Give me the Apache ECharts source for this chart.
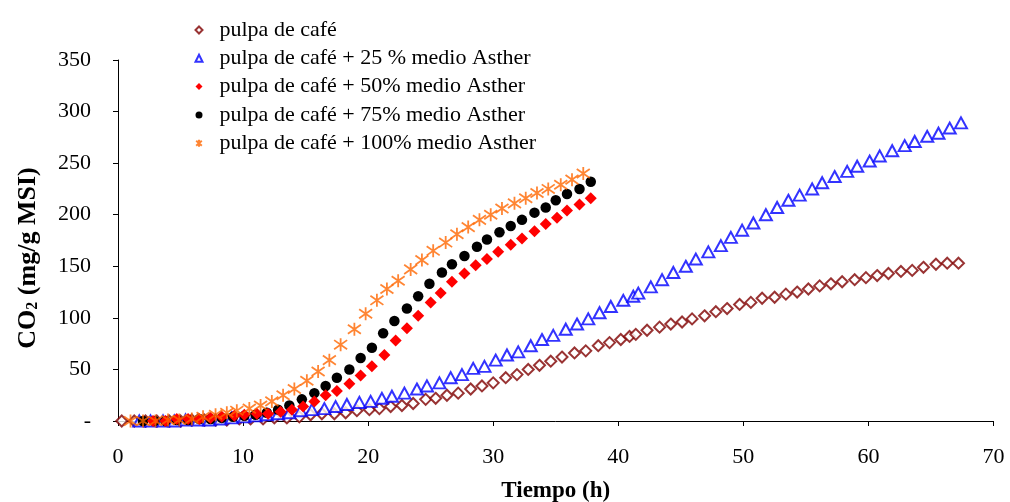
<!DOCTYPE html>
<html>
<head>
<meta charset="utf-8">
<script src="https://cdn.jsdelivr.net/npm/echarts@6/dist/echarts.min.js"></script>
<style>
  html, body { margin: 0; padding: 0; background: #fff; }
  #chart { width: 1010px; height: 502px; }
</style>
</head>
<body>
<div id="chart"></div>
<script>
// Producción acumulada de CO2 (mg/g MSI) frente al tiempo (h)
const nombres = [
  'pulpa de café',
  'pulpa de café + 25 % medio Asther',
  'pulpa de café + 50% medio Asther',
  'pulpa de café + 75% medio Asther',
  'pulpa de café + 100% medio Asther'
];

const ticksY = [0, 50, 100, 150, 200, 250, 300, 350];
const ticksX = [0, 10, 20, 30, 40, 50, 60, 70];

// [tiempo (h), CO2 (mg/g MSI)]
const pulpa = [
  [0.3,0],[1.3,0],[2.2,0],[3.1,0],[4.1,0],[5.0,0],[5.9,1],[6.9,1],[7.8,1],[8.7,1],
  [9.7,2],[10.6,2],[11.6,2],[12.5,3],[13.5,3],[14.5,4],[15.4,6],[16.3,7],[17.3,7],[18.2,8],
  [19.1,10],[20.1,11],[20.9,12],[21.8,14],[22.7,15],[23.6,17],[24.6,21],[25.4,22],[26.3,25],[27.2,27],
  [28.2,31],[29.1,34],[30.0,37],[31.0,42],[31.9,45],[32.8,50],[33.7,54],[34.6,58],[35.5,62],[36.5,66],
  [37.4,68],[38.4,73],[39.3,76],[40.2,79],[40.9,82],[41.4,84],[42.3,88],[43.3,91],[44.2,94],[45.1,96],
  [45.9,99],[46.9,102],[47.8,106],[48.7,109],[49.7,113],[50.6,115],[51.5,119],[52.5,120],[53.4,123],[54.3,125],
  [55.2,128],[56.1,131],[57.0,133],[57.9,135],[58.9,137],[59.8,139],[60.7,141],[61.6,143],[62.6,145],[63.5,146],
  [64.4,149],[65.4,152],[66.3,153],[67.2,153]
];

const asther25 = [
  [1.7,0],[2.6,0],[3.6,0],[4.5,0],[5.4,1],[6.4,1],[7.3,1],[8.2,2],[9.1,3],[10.1,4],
  [11.0,5],[11.9,6],[12.8,7],[13.7,8],[14.6,10],[15.5,11],[16.5,12],[17.4,14],[18.3,16],[19.3,18],
  [20.2,19],[21.1,22],[21.9,24],[22.9,27],[23.9,31],[24.7,34],[25.7,37],[26.6,42],[27.5,45],[28.4,51],
  [29.3,53],[30.2,59],[31.1,64],[32.0,67],[33.0,73],[33.9,79],[34.8,83],[35.8,89],[36.7,94],[37.6,99],
  [38.5,105],[39.4,111],[40.4,117],[41.2,121],[41.6,124],[42.6,130],[43.5,137],[44.4,144],[45.4,150],[46.2,157],
  [47.2,164],[48.2,170],[49.0,178],[49.9,185],[50.8,192],[51.8,200],[52.7,207],[53.6,214],[54.5,219],[55.5,225],
  [56.3,231],[57.3,237],[58.3,242],[59.1,247],[60.1,252],[60.9,257],[61.9,262],[62.9,267],[63.7,271],[64.7,276],
  [65.6,279],[66.5,284],[67.4,289]
];

const asther50 = [
  [2.8,0],[3.8,0],[4.7,2],[5.6,2],[6.5,2],[7.4,3],[8.3,4],[9.3,5],[10.1,6],[11.1,7],
  [12.0,7],[13.0,9],[13.9,11],[14.8,14],[15.7,19],[16.6,25],[17.5,29],[18.5,36],[19.4,44],[20.3,53],
  [21.3,64],[22.2,78],[23.1,90],[24.0,102],[25.0,115],[25.8,124],[26.7,135],[27.7,143],[28.6,151],[29.5,157],
  [30.4,164],[31.4,171],[32.3,177],[33.3,184],[34.2,191],[35.1,197],[35.9,204],[36.9,210],[37.8,216]
];

const asther75 = [
  [2.0,0],[2.9,0],[3.8,0],[4.7,1],[5.6,1],[6.5,2],[7.4,2],[8.3,3],[9.2,4],[10.1,5],
  [11.0,6],[11.9,8],[12.8,11],[13.7,15],[14.7,21],[15.7,27],[16.6,34],[17.5,42],[18.5,50],[19.4,61],
  [20.3,71],[21.2,85],[22.1,97],[23.1,109],[24.0,121],[24.9,133],[25.9,144],[26.7,152],[27.7,160],[28.7,169],
  [29.5,176],[30.5,183],[31.4,189],[32.3,195],[33.3,202],[34.2,207],[35.0,214],[35.9,220],[36.9,225],[37.8,232]
];

const asther100 = [
  [1.0,0],[2.0,0],[3.0,0],[4.0,1],[4.9,1],[5.9,2],[6.8,4],[7.8,6],[8.7,8],[9.5,10],
  [10.5,12],[11.4,15],[12.3,19],[13.2,25],[14.1,31],[15.1,39],[16.0,48],[16.9,59],[17.8,74],[18.9,89],
  [19.8,104],[20.7,117],[21.5,128],[22.4,136],[23.4,147],[24.3,156],[25.2,165],[26.2,173],[27.1,181],[28.0,188],
  [28.9,195],[29.8,200],[30.7,206],[31.7,211],[32.6,216],[33.5,221],[34.4,225],[35.4,229],[36.3,234],[37.2,240]
];

const SERIF = '"Liberation Serif", "Times New Roman", serif';
const asterisco = 'path://M1,1.5L9,8.5M1,8.5L9,1.5M5,0L5,10';

const chart = echarts.init(document.getElementById('chart'), null, { renderer: 'canvas' });

chart.setOption({
  animation: false,
  backgroundColor: '#ffffff',
  grid: {
    left: 118, right: 16.5, top: 60, bottom: 81,
    containLabel: false,
    outerBoundsMode: 'none'
  },
  legend: {
    orient: 'vertical',
    left: 189.5, top: 14,
    itemWidth: 7, itemHeight: 7, itemGap: 6.3,
    textStyle: {
      fontFamily: SERIF, fontSize: 22, color: '#000', lineHeight: 22,
      padding: [0, 0, 0, 12]
    },
    data: nombres
  },
  xAxis: {
    type: 'value',
    min: ticksX[0], max: ticksX[ticksX.length - 1], interval: 10,
    name: 'Tiempo (h)',
    nameLocation: 'middle',
    nameGap: 59,
    nameTextStyle: { fontFamily: SERIF, fontSize: 23, fontWeight: 'bold', color: '#000' },
    axisLine: { show: true, onZero: false, lineStyle: { color: '#000', width: 1 } },
    axisTick: { show: true, inside: false, length: 5, lineStyle: { color: '#000' } },
    axisLabel: { fontFamily: SERIF, fontSize: 22, color: '#000', margin: 25 },
    splitLine: { show: false }
  },
  yAxis: {
    type: 'value',
    min: ticksY[0], max: ticksY[ticksY.length - 1], interval: 50,
    axisLine: { show: true, onZero: false, lineStyle: { color: '#000', width: 1 } },
    axisTick: { show: true, inside: false, length: 5, lineStyle: { color: '#000' } },
    axisLabel: {
      fontFamily: SERIF, fontSize: 22, color: '#000', margin: 27,
      formatter: v => (v === 0 ? '-' : String(v))
    },
    splitLine: { show: false }
  },
  graphic: [{
    type: 'text',
    x: 27, y: 258,
    rotation: Math.PI / 2,
    style: {
      text: '{a|CO}{s|2}{a| (mg/g MSI)}',
      align: 'center',
      verticalAlign: 'middle',
      fill: '#000',
      rich: {
        a: { fontFamily: SERIF, fontSize: 26, fontWeight: 'bold', fill: '#000', lineHeight: 28, verticalAlign: 'bottom' },
        s: { fontFamily: SERIF, fontSize: 16, fontWeight: 'bold', fill: '#000', lineHeight: 23, verticalAlign: 'bottom' }
      }
    }
  }],
  series: [
    {
      name: nombres[0], type: 'scatter', z: 1,
      data: pulpa,
      symbol: 'emptyDiamond', symbolSize: 11,
      itemStyle: { color: '#800000', borderColor: '#800000', borderWidth: 2 }
    },
    {
      name: nombres[1], type: 'scatter', z: 2,
      data: asther25,
      symbol: 'emptyTriangle', symbolSize: [12, 11],
      itemStyle: { color: '#0000ff', borderColor: '#0000ff', borderWidth: 2 }
    },
    {
      name: nombres[2], type: 'scatter', z: 4,
      data: asther50,
      symbol: 'diamond', symbolSize: 12,
      itemStyle: { color: '#ff0000', opacity: 1 }
    },
    {
      name: nombres[3], type: 'scatter', z: 3,
      data: asther75,
      symbol: 'circle', symbolSize: 10.5,
      itemStyle: { color: '#000000', opacity: 1 }
    },
    {
      name: nombres[4], type: 'scatter', z: 5,
      data: asther100,
      symbol: asterisco, symbolSize: 13,
      itemStyle: { color: 'rgba(0,0,0,0)', borderColor: '#ff6600', borderWidth: 1.8 }
    }
  ]
});
</script>
</body>
</html>
